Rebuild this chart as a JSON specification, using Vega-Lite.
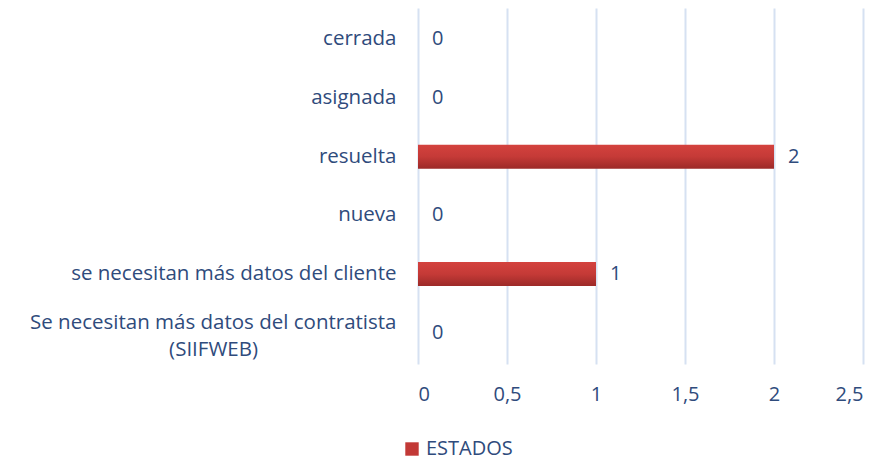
{
  "$schema": "https://vega.github.io/schema/vega-lite/v6.json",
  "width": 445,
  "height": 356,
  "autosize": "none",
  "padding": {"left": 418, "top": 8, "right": 31, "bottom": 97},
  "background": "white",
  "config": {
    "view": {"stroke": null},
    "font": "Open Sans"
  },
  "data": {
    "values": [
      {"estado": "cerrada", "valor": 0},
      {"estado": "asignada", "valor": 0},
      {"estado": "resuelta", "valor": 2},
      {"estado": "nueva", "valor": 0},
      {"estado": "se necesitan más datos del cliente", "valor": 1},
      {"estado": "Se necesitan más datos del contratista (SIIFWEB)", "valor": 0}
    ]
  },
  "encoding": {
    "y": {
      "field": "estado",
      "type": "nominal",
      "sort": null,
      "title": null,
      "scale": {"paddingInner": 0.59, "paddingOuter": 0.33},
      "axis": {
        "domain": false,
        "ticks": false,
        "labelPadding": 22,
        "labelFontSize": 20.5,
        "labelColor": "#2F4B7C",
        "labelLimit": 500,
        "labelLineHeight": 27,
        "labelOffset": {"condition": {"test": "datum.label == 'Se necesitan más datos del contratista (SIIFWEB)'", "value": -10}, "value": 0},
        "labelExpr": "datum.label == 'Se necesitan más datos del contratista (SIIFWEB)' ? ['Se necesitan más datos del contratista', '(SIIFWEB)\u00a0\u00a0\u00a0\u00a0\u00a0\u00a0\u00a0\u00a0\u00a0\u00a0\u00a0\u00a0\u00a0\u00a0\u00a0\u00a0\u00a0\u00a0\u00a0\u00a0\u00a0\u00a0\u00a0\u00a0\u00a0\u00a0\u200b'] : datum.label"
      }
    },
    "x": {
      "field": "valor",
      "type": "quantitative",
      "title": null,
      "scale": {"domain": [0, 2.5], "nice": false},
      "axis": {
        "values": [0, 0.5, 1, 1.5, 2, 2.5],
        "domain": false,
        "ticks": false,
        "gridColor": "#D6E1F2",
        "gridWidth": 2,
        "labelPadding": 20,
        "labelFontSize": 20,
        "labelColor": "#2F4B7C",
        "labelExpr": "replace(toString(datum.value), '.', ',')"
      }
    }
  },
  "layer": [
    {
      "mark": {
        "type": "bar",
        "color": {"gradient": "linear", "x1": 0, "y1": 0, "x2": 0, "y2": 1, "stops": [{"offset": 0, "color": "#D4423E"}, {"offset": 0.5, "color": "#C53A37"}, {"offset": 1, "color": "#9C2A28"}]}
      }
    },
    {
      "mark": {"type": "point", "shape": "square", "filled": true, "opacity": 0},
      "encoding": {
        "color": {
          "datum": "ESTADOS",
          "type": "nominal",
          "scale": {"range": ["#C23936"]},
          "legend": {
            "title": null,
            "orient": "none",
            "legendX": -16,
            "legendY": 431,
            "symbolType": "square",
            "symbolSize": 180,
            "symbolOpacity": 1,
            "labelFontSize": 20,
            "labelColor": "#2F4B7C",
            "labelOffset": 4
          }
        }
      }
    },
    {
      "mark": {"type": "text", "align": "left", "dx": 14, "fontSize": 20, "color": "#2F4B7C"},
      "encoding": {
        "text": {"field": "valor", "type": "quantitative"}
      }
    }
  ]
}
